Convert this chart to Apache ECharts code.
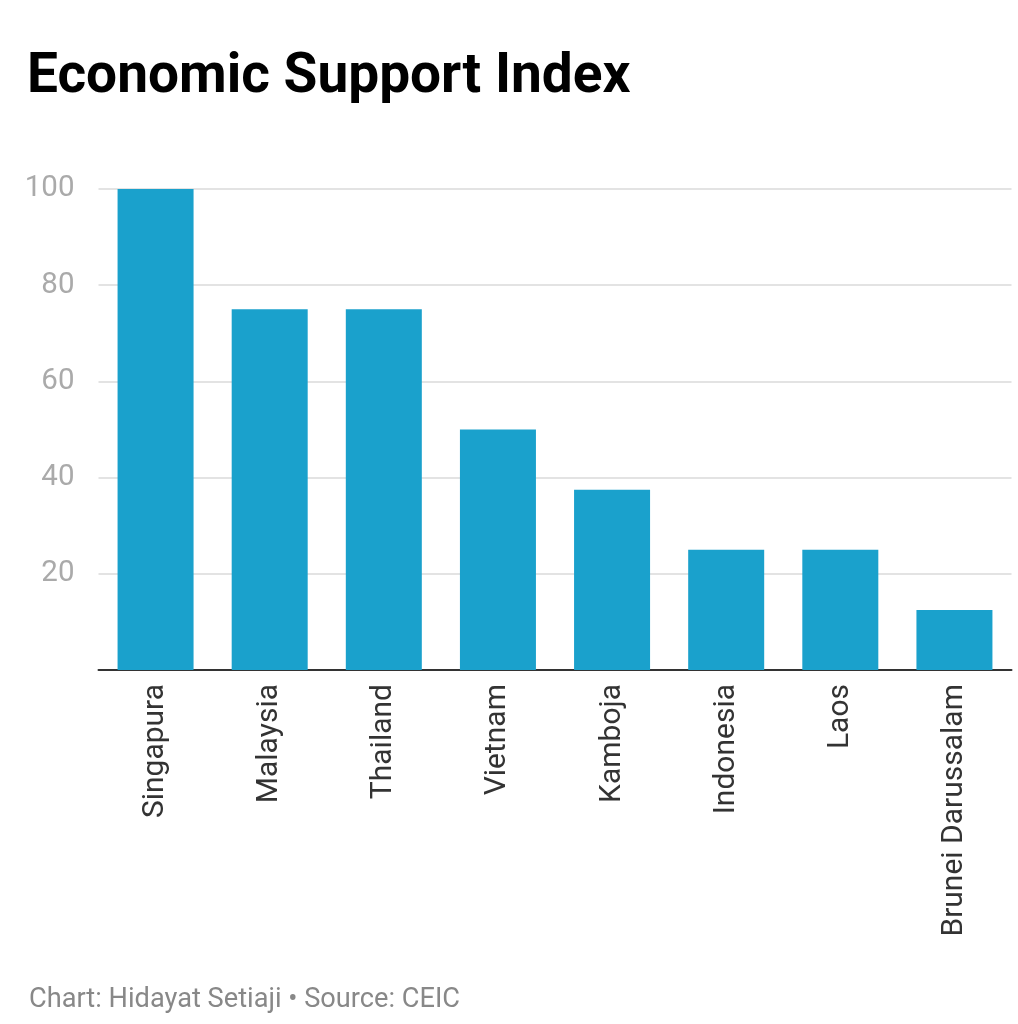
<!DOCTYPE html>
<html><head><meta charset="utf-8">
<style>html,body{margin:0;padding:0;background:#fff;}#c{width:1018px;height:1024px;}</style>
<script src="https://cdn.jsdelivr.net/npm/echarts@6/dist/echarts.min.js"></script>
</head><body><div id="c"></div>
<script>
const categories = ['Singapura','Malaysia','Thailand','Vietnam','Kamboja','Indonesia','Laos','Brunei Darussalam'];
const values = [100, 75, 75, 50, 37.5, 25, 25, 12.5];
const yTicks = [0, 20, 40, 60, 80, 100];

const chart = echarts.init(document.getElementById('c'), null, {renderer:'canvas'});
chart.setOption({
  animation:false,
  backgroundColor:'#fff',
  title:[{
    text:'Economic Support Index', left:22, top:46,
    textStyle:{fontFamily:'Roboto', fontWeight:'bold', fontSize:55, color:'#000'}
  },{
    text:'Chart: Hidayat Setiaji • Source: CEIC', left:24, top:982,
    textStyle:{fontFamily:'Roboto', fontWeight:'normal', fontSize:27.2, color:'#888'}
  }],
  grid:{left:98.5, top:189, width:913, height:481, containLabel:false},
  xAxis:{
    type:'category', data:categories,
    axisLine:{lineStyle:{color:'#333', width:2}},
    axisTick:{show:false},
    axisLabel:{rotate:90, fontFamily:'Roboto', fontSize:30, color:'#333', margin:14, interval:0}
  },
  yAxis:{
    type:'value', min:yTicks[0], max:yTicks[yTicks.length-1], interval:20,
    axisLine:{show:false}, axisTick:{show:false},
    axisLabel:{showMinLabel:false, fontFamily:'Roboto', fontSize:29.5, color:'#aaa', margin:24, padding:[4,0,0,0]},
    splitLine:{lineStyle:{color:'#e3e3e3', width:2}}
  },
  series:[{
    type:'bar', data:values, barWidth:76,
    itemStyle:{color:'#1aa1cc'}
  }]
});
</script></body></html>
